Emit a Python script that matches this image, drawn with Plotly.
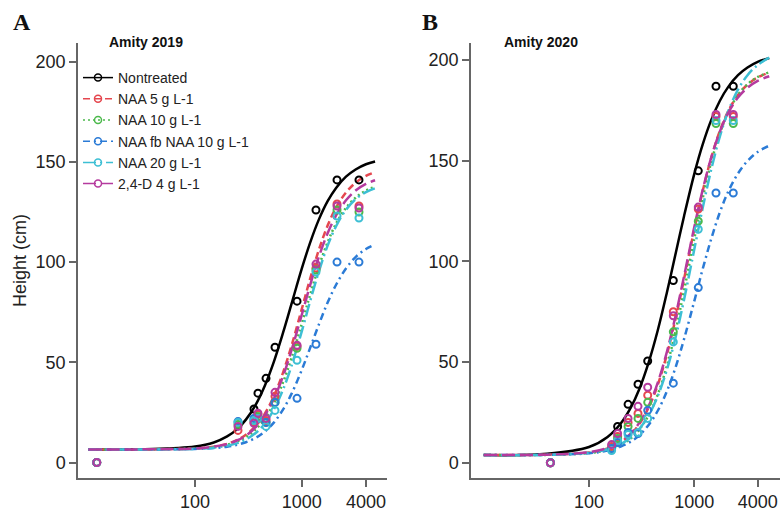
import plotly.graph_objects as go

treatments = ["Nontreated", "NAA 5 g L-1", "NAA 10 g L-1", "NAA fb NAA 10 g L-1", "NAA 20 g L-1", "2,4-D 4 g L-1"]
colors = ["#000000", "#E5474F", "#4CB94C", "#2B7BD6", "#3DBFD4", "#B53A9E"]
dashes = ["solid", "7px,4px", "2px,3px", "7px,4px,2px,4px", "13px,4px,2px,4px", "13px,5px"]

# observed points, panel A (Amity 2019)
xA = [12, 253, 357, 389, 463, 562, 904, 1361, 2143, 3443]
yA_nontreated = [0, None, 26.7, 34.6, 42, 57.5, 80.5, 126, 141, 141]
yA_naa5 = [0, 16, 20, 24, 21, 33, 58, 97, 129, 128]
yA_naa10 = [0, 19, 21, 23, 20, 30, 57, 96, 126, 125]
yA_naafb = [0, 20.4, 22, 22, 20, 30, 32, 59, 100, 100]
yA_naa20 = [0, 20, 21, 22, 18, 26, 51, 95, 123, 122]
yA_24d = [0, 18, 19.6, 24.6, 22, 35, 58.5, 99, 128, 127]

# observed points, panel B (Amity 2020)
xB = [43, 164, 187, 235, 292, 361, 632, 1091, 1607, 2345]
yB_nontreated = [0, None, 18, 29, 39, 50.5, 90.5, 145, 187, 187]
yB_naa5 = [0, 8, 13, 20, 24.5, 33.5, 75, 126, 172, 172]
yB_naa10 = [0, 7, 12, 18, 22, 30, 65, 120, 168.5, 168.5]
yB_naafb = [0, 7, 10, 15, 14.5, 26, 39.5, 87, 134, 134]
yB_naa20 = [0, 6, 11, 14, 15, 22, 60, 116, 170, 170]
yB_24d = [0, 9, 14.5, 22, 28, 37.5, 73, 127, 173, 173]

# fitted curves
cxA = [10, 40, 100, 150, 200, 250, 300, 370, 450, 550, 670, 800, 1000, 1200, 1450, 1750, 2100, 2600, 3200, 4000, 4870]
cxB = [10, 40, 100, 150, 200, 250, 300, 370, 450, 550, 670, 800, 1000, 1200, 1450, 1750, 2100, 2600, 3200, 4000, 5150]
cA_nontreated = [6.5, 6.7, 8.0, 10.0, 13.0, 16.8, 21.4, 28.8, 38.2, 50.5, 64.9, 78.9, 96.6, 109.7, 121.3, 130.4, 137.0, 142.6, 146.2, 148.8, 150.2]
cA_naa5 = [6.5, 6.6, 7.0, 7.9, 9.3, 11.3, 13.8, 18.2, 24.3, 33.2, 45.0, 58.0, 76.4, 91.7, 106.2, 118.2, 127.2, 134.7, 139.6, 143.0, 144.8]
cA_naa10 = [6.5, 6.6, 7.0, 7.7, 8.9, 10.6, 12.7, 16.5, 21.8, 29.6, 40.1, 51.9, 69.1, 83.7, 97.9, 109.9, 119.2, 127.0, 132.1, 135.7, 137.6]
cA_naafb = [6.5, 6.5, 6.8, 7.2, 7.9, 8.9, 10.1, 12.3, 15.4, 20.0, 26.5, 34.1, 46.1, 57.2, 68.9, 79.8, 88.7, 96.8, 102.5, 106.5, 108.8]
cA_naa20 = [6.5, 6.5, 6.8, 7.4, 8.4, 9.7, 11.5, 14.7, 19.4, 26.6, 36.5, 48.0, 65.3, 80.5, 95.4, 108.2, 117.9, 126.1, 131.4, 134.9, 136.8]
cA_24d = [6.5, 6.6, 7.0, 7.9, 9.2, 11.1, 13.4, 17.6, 23.4, 31.9, 43.2, 55.8, 73.6, 88.5, 102.7, 114.4, 123.3, 130.8, 135.7, 139.0, 140.8]
cB_nontreated = [3.8, 4.4, 7.8, 12.8, 19.5, 27.5, 36.5, 50.1, 65.8, 84.7, 104.7, 122.6, 143.5, 158.0, 170.3, 179.8, 186.7, 192.5, 196.3, 199.1, 201.0]
cB_naa5 = [3.8, 4.0, 5.1, 7.1, 10.2, 14.2, 19.2, 27.6, 38.7, 53.9, 72.5, 91.4, 116.0, 134.8, 151.6, 164.9, 174.6, 182.7, 187.8, 191.4, 193.8]
cB_naa10 = [3.8, 3.9, 4.8, 6.3, 8.8, 12.1, 16.4, 23.8, 33.9, 48.2, 66.4, 85.6, 111.3, 131.3, 149.4, 163.7, 174.1, 182.6, 188.0, 191.6, 194.0]
cB_naafb = [3.8, 3.9, 4.7, 6.0, 8.0, 10.5, 13.6, 18.9, 25.8, 35.6, 48.0, 61.5, 80.3, 96.1, 111.3, 124.4, 134.7, 143.7, 149.9, 154.4, 157.5]
cB_naa20 = [3.8, 3.9, 5.0, 6.7, 9.2, 12.5, 16.7, 23.7, 33.1, 46.3, 63.1, 81.1, 106.0, 126.4, 145.8, 162.1, 174.6, 185.3, 192.5, 197.6, 201.2]
cB_24d = [3.8, 4.0, 5.2, 7.3, 10.4, 14.6, 19.8, 28.4, 39.8, 55.2, 73.9, 92.7, 117.1, 135.4, 151.7, 164.5, 173.8, 181.4, 186.3, 189.7, 192.0]

x_tickvals = [100, 1000, 4000]
x_ticktext = ["100", "1000", "4000"]
y_tickvals = [0, 50, 100, 150, 200]

ptsA = [yA_nontreated, yA_naa5, yA_naa10, yA_naafb, yA_naa20, yA_24d]
ptsB = [yB_nontreated, yB_naa5, yB_naa10, yB_naafb, yB_naa20, yB_24d]
crvA = [cA_nontreated, cA_naa5, cA_naa10, cA_naafb, cA_naa20, cA_24d]
crvB = [cB_nontreated, cB_naa5, cB_naa10, cB_naafb, cB_naa20, cB_24d]

fig = go.Figure()
for i, t in enumerate(treatments):
    for cx, cy, xa, ya in [(cxA, crvA[i], "x", "y"), (cxB, crvB[i], "x2", "y2")]:
        fig.add_trace(go.Scatter(
            x=cx, y=cy, mode="lines", xaxis=xa, yaxis=ya, name=t, legendgroup=t,
            line=dict(color=colors[i], width=2.5, dash=dashes[i], shape="spline", smoothing=1.0),
            showlegend=False, hoverinfo="skip"))
for i, t in enumerate(treatments):
    for px, py, xa, ya in [(xA, ptsA[i], "x", "y"), (xB, ptsB[i], "x2", "y2")]:
        fig.add_trace(go.Scatter(
            x=px, y=py, mode="markers", xaxis=xa, yaxis=ya, name=t, legendgroup=t,
            marker=dict(symbol="circle-open", size=7, color=colors[i], line=dict(width=2, color=colors[i])),
            showlegend=False))
# legend entries (line + open circle, as in the original key)
for i, t in enumerate(treatments):
    fig.add_trace(go.Scatter(
        x=[None], y=[None], mode="lines+markers", name=t, legendgroup=t, xaxis="x", yaxis="y",
        line=dict(color=colors[i], width=1.5, dash=dashes[i]),
        marker=dict(symbol="circle-open", size=7, color=colors[i], line=dict(width=1.5, color=colors[i])),
        showlegend=True))

axis_common = dict(showline=True, linecolor="#666666", linewidth=1.5, ticks="outside", ticklen=7,
                   tickcolor="#666666", tickwidth=1.5, showgrid=False, zeroline=False,
                   tickfont=dict(family="Liberation Sans, Arial", size=18, color="#222222"))

fig.update_layout(
    width=781, height=511, margin=dict(l=0, r=0, t=0, b=0),
    paper_bgcolor="white", plot_bgcolor="white",
    font=dict(family="Liberation Sans, Arial", color="#222222"),
    xaxis=dict(domain=[78/781, 387/781], type="log", range=[0.9035, 3.7994],
               tickvals=x_tickvals, ticktext=x_ticktext, anchor="y", **axis_common),
    yaxis=dict(domain=[33/511, 468/511], range=[-7.73, 209.3], tickvals=y_tickvals,
               anchor="x", title=dict(text="Height (cm)", font=dict(size=18), standoff=4), **axis_common),
    xaxis2=dict(domain=[471/781, 780/781], type="log", range=[0.8794, 3.8139],
                tickvals=x_tickvals, ticktext=x_ticktext, anchor="y2", **axis_common),
    yaxis2=dict(domain=[33/511, 468/511], range=[-7.6, 208.5], tickvals=y_tickvals,
                anchor="x2", **axis_common),
    legend=dict(x=78/781, y=1 - 62/511, xanchor="left", yanchor="top", bgcolor="rgba(0,0,0,0)",
                font=dict(size=14, color="#222222"), tracegroupgap=0),
    showlegend=True,
    annotations=[
        dict(text="<b>A</b>", x=22/781, y=1 - 22/511, xref="paper", yref="paper", showarrow=False,
             font=dict(family="Liberation Serif", size=24, color="#111111"), xanchor="center", yanchor="middle"),
        dict(text="<b>B</b>", x=430/781, y=1 - 22/511, xref="paper", yref="paper", showarrow=False,
             font=dict(family="Liberation Serif", size=24, color="#111111"), xanchor="center", yanchor="middle"),
        dict(text="<b>Amity 2019</b>", x=146/781, y=1 - 42/511, xref="paper", yref="paper", showarrow=False,
             font=dict(size=14, color="#111111"), xanchor="center", yanchor="middle"),
        dict(text="<b>Amity 2020</b>", x=541/781, y=1 - 42/511, xref="paper", yref="paper", showarrow=False,
             font=dict(size=14, color="#111111"), xanchor="center", yanchor="middle"),
    ],
)
fig.write_html("out.html", config={"displayModeBar": False},
               post_script="document.body.style.margin='0';")
